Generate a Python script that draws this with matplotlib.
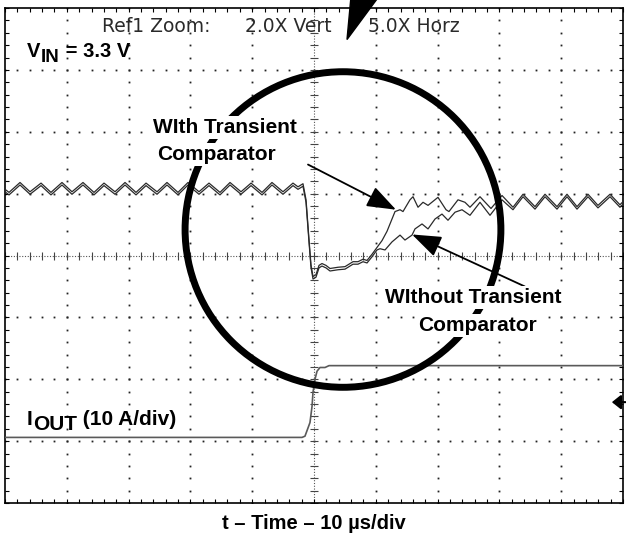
import numpy as np
import matplotlib
matplotlib.use('Agg')
import matplotlib.pyplot as plt
from matplotlib.patches import Ellipse, Polygon
from matplotlib import transforms

plt.rcParams['font.family'] = ['Liberation Sans', 'DejaVu Sans']

# time in us (10 us/div), voltage / current in scope divisions (0 = screen centre)
# ripple before the load step (both traces lie on top of each other)
pre_t = [-50.00, -49.35, -47.57, -45.95, -44.17, -42.56, -40.78, -39.16, -37.38, -35.60,
         -33.98, -32.20, -30.58, -28.80, -27.18, -25.40, -23.79, -22.01, -20.39, -18.61,
         -16.99, -15.21, -13.59, -11.81, -10.19, -8.41, -6.80, -5.02, -3.40, -2.59, -1.78]
pre_v = [1.07, 1.02, 1.18, 1.03, 1.17, 1.02, 1.18, 1.03, 1.18, 1.02,
         1.17, 1.03, 1.18, 1.02, 1.17, 1.03, 1.18, 1.02, 1.18, 1.03,
         1.17, 1.02, 1.18, 1.03, 1.17, 1.02, 1.18, 1.03, 1.17, 1.11, 1.16]

# droop and the common start of the recovery
drop_t = [-1.29, -0.81, -0.49, -0.16, 0.32, 0.81, 1.29, 1.94, 2.59, 3.88,
          5.02, 6.31, 7.12, 7.93, 8.58, 9.39, 10.19]
drop_v = [0.90, 0.26, -0.15, -0.34, -0.31, -0.16, -0.13, -0.16, -0.21, -0.19,
          -0.18, -0.10, -0.10, -0.06, -0.08, 0.02, 0.13]

# recovery with the transient comparator
with_t = [11.00, 11.81, 13.11, 13.92, 14.40, 15.53, 16.02, 16.83, 17.64, 18.45,
          20.06, 21.36, 21.84, 23.30, 24.43, 25.24, 26.86, 28.64, 30.42]
with_v = [0.24, 0.39, 0.71, 0.74, 0.71, 0.90, 0.95, 0.78, 0.86, 0.81,
          0.94, 0.74, 0.71, 0.90, 0.86, 0.78, 0.95, 0.76, 0.97]

# recovery without the transient comparator
without_t = [10.68, 11.49, 12.62, 13.92, 14.72, 15.86, 16.34, 17.48, 18.45, 19.58,
             20.71, 21.68, 22.82, 23.95, 25.24, 26.86, 28.48, 30.42]
without_v = [0.15, 0.13, 0.26, 0.37, 0.29, 0.37, 0.47, 0.55, 0.47, 0.63,
             0.71, 0.61, 0.74, 0.78, 0.69, 0.90, 0.69, 0.94]

# ripple after the step (both traces together again)
post_t = [32.20, 33.82, 35.76, 37.38, 39.32, 40.94, 42.56, 44.34, 45.95, 47.90, 49.51, 50.00]
post_v = [0.78, 0.99, 0.79, 0.99, 0.79, 0.99, 0.79, 0.99, 0.81, 0.99, 0.82, 0.87]

# output current trace
iout_t = [-50.0, -1.94, -1.46, -0.65, -0.32, -0.16, 0.16, 0.49, 0.97, 1.78, 2.43, 50.0]
iout_v = [-2.94, -2.94, -2.92, -2.70, -2.44, -2.21, -2.00, -1.87, -1.81, -1.81, -1.78, -1.78]

trace_with = (pre_t + drop_t + with_t + post_t, pre_v + drop_v + with_v + post_v)
trace_without = (pre_t + drop_t + without_t + post_t, pre_v + drop_v + without_v + post_v)

fig = plt.figure(figsize=(6.26, 5.41), dpi=100)
ax = fig.add_axes([5 / 626, 38 / 541, 618 / 626, 495 / 541])
ax.set_xlim(-50, 50)
ax.set_ylim(-4, 4)

# graticule
minor_t = np.arange(-50, 50.1, 2)
minor_y = np.arange(-4, 4.01, 0.2)
for gx in [-40, -30, -20, -10, 10, 20, 30, 40]:
    ax.plot(np.full_like(minor_y, gx), minor_y, ls='none', marker='s', ms=1.3,
            mec='none', mfc='#222222', zorder=1)
for gy in [-3, -2, -1, 1, 2, 3]:
    ax.plot(minor_t, np.full_like(minor_t, gy), ls='none', marker='s', ms=1.3,
            mec='none', mfc='#222222', zorder=1)
ax.axvline(0, color='#555555', lw=0.8, ls=(0, (1, 1.5)), zorder=1)
ax.axhline(0, color='#555555', lw=0.8, ls=(0, (1, 1.5)), zorder=1)
ax.plot(np.zeros_like(minor_y), minor_y, ls='none', marker='_', ms=6, mew=0.8,
        color='#444444', zorder=1)
ax.plot(minor_t, np.zeros_like(minor_t), ls='none', marker='|', ms=6, mew=0.8,
        color='#444444', zorder=1)

ax.set_xticks(np.arange(-50, 51, 10))
ax.set_xticks(minor_t, minor=True)
ax.set_yticks(np.arange(-4, 5, 1))
ax.set_yticks(minor_y, minor=True)
ax.tick_params(which='both', direction='in', top=True, right=True, length=3, width=0.8,
               labelbottom=False, labelleft=False)
for s in ax.spines.values():
    s.set_linewidth(1.2)

# traces
ax.plot(iout_t, iout_v, color='#5a5a5a', lw=1.2, zorder=3)
ax.plot(*trace_with, color='#2a2a2a', lw=0.9, zorder=3)
off = transforms.offset_copy(ax.transData, fig=fig, x=0, y=-2.5, units='dots')
ax.plot(*trace_without, color='#2a2a2a', lw=0.9, zorder=3, transform=off)

# zoom circle
ax.add_patch(Ellipse((4.69, 0.42), width=51.1, height=5.10, fill=False, lw=5,
                     ec='black', zorder=5))

# arrows
arrow_kw = dict(arrowstyle='-|>,head_length=0.6,head_width=0.22', mutation_scale=30,
                lw=1.3, color='black', shrinkA=0, shrinkB=0)
ax.annotate('', xy=(13.27, 0.74), xytext=(-0.97, 1.47), arrowprops=arrow_kw, zorder=6)
ax.annotate('', xy=(15.86, 0.34), xytext=(34.1, -0.50), arrowprops=arrow_kw, zorder=6)

# ground marker on the right edge and trigger marker at the top
ax.annotate('', xy=(48.2, -2.37), xytext=(50.4, -2.37), annotation_clip=False,
            arrowprops=dict(arrowstyle='-|>,head_length=0.45,head_width=0.36',
                            mutation_scale=12, lw=1.5, color='black',
                            shrinkA=0, shrinkB=0))
ax.add_patch(Polygon([(5.34, 3.49), (6.0, 4.2), (10.6, 4.2)], closed=True,
                     fc='black', ec='black', clip_on=False, zorder=6))

# texts
ref_kw = dict(transform=ax.transAxes, family='DejaVu Sans', fontsize=13.5,
              color='#2a2a2a', va='baseline')
ax.text(0.157, 0.9515, 'Ref1 Zoom:', **ref_kw)
ax.text(0.388, 0.9515, '2.0X Vert', **ref_kw)
ax.text(0.587, 0.9515, '5.0X Horz', **ref_kw)

lab = dict(fontsize=15, fontweight='bold', color='black')
v = ax.text(0.0356, 0.901, 'V', transform=ax.transAxes, va='baseline', fontsize=14.5,
            fontweight='bold')
sub = ax.annotate('IN', xy=(1, 0), xycoords=v, xytext=(0.5, -3.6),
                  textcoords='offset points', va='bottom', fontsize=13.5, fontweight='bold')
ax.annotate(' = 3.3 V', xy=(1, 0), xycoords=sub, xytext=(0, 3.6),
            textcoords='offset points', va='bottom', fontsize=14.5, fontweight='bold')

i = ax.text(0.0356, 0.1576, 'I', transform=ax.transAxes, va='baseline', **lab)
sub = ax.annotate('OUT', xy=(1, 0), xycoords=i, xytext=(0.5, -3.6),
                  textcoords='offset points', va='bottom', **lab)
ax.annotate(' (10 A/div)', xy=(1, 0), xycoords=sub, xytext=(0, 3.6),
            textcoords='offset points', va='bottom', **lab)

# the callout labels blank out the circle behind them
mask = dict(fc='white', ec='none', pad=1.5)
for x, y, s in [(0.2395, 0.7475, 'WIth Transient'), (0.246, 0.693, 'Comparator'),
                (0.615, 0.404, 'WIthout Transient'), (0.668, 0.3475, 'Comparator')]:
    ax.text(x, y, s, transform=ax.transAxes, va='baseline', bbox=mask, zorder=7, **lab)

fig.text(0.5016, 0.022, 't \u2013 Time \u2013 10 \u00b5s/div', ha='center', va='baseline',
         fontsize=14.5, fontweight='bold')

fig.savefig('out.png', dpi=100)
